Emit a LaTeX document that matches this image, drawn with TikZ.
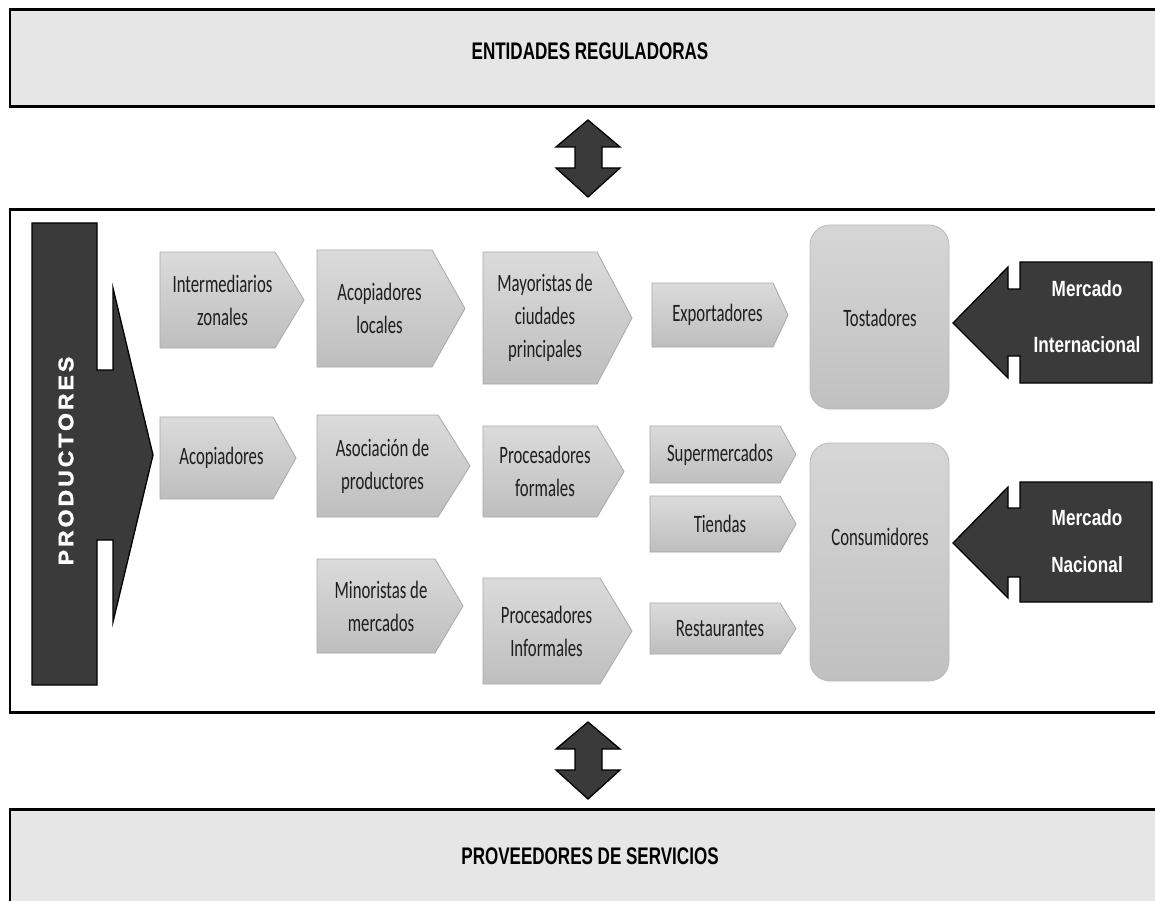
\documentclass[tikz,border=0pt]{standalone}
\usepackage{fontspec}
\newfontfamily\chevfont[FakeStretch=0.67]{Carlito}
\newfontfamily\hdfont[FakeStretch=0.71]{Liberation Sans}
\newfontfamily\mkfont[FakeStretch=0.78]{Liberation Sans}
\newfontfamily\prodfont[FakeStretch=1.1,LetterSpace=14,FakeBold=1.5]{Liberation Sans}
\definecolor{darkfill}{HTML}{3A3A3A}
\definecolor{bandfill}{HTML}{E6E6E6}
\definecolor{chevtop}{HTML}{DBDBDB}
\definecolor{chevbot}{HTML}{BEBEBE}
\definecolor{chevline}{HTML}{A8A8A8}
\definecolor{rndtop}{HTML}{D6D6D6}
\definecolor{rndbot}{HTML}{C0C0C0}
\definecolor{txtdark}{HTML}{1E1E1E}
\tikzset{
  hedge/.style={draw=black, line width=3pt},
  vedge/.style={draw=black, line width=1.8pt},
  chev/.style={draw=chevline, line width=0.8pt, top color=chevtop, bottom color=chevbot},
  chevtext/.style={align=center, text=txtdark, inner sep=0pt, font={\chevfont\fontsize{25}{33}\selectfont}},
  rndbox/.style={draw=chevline!80, line width=0.8pt, top color=rndtop, bottom color=rndbot, rounded corners=20pt},
  darkshape/.style={draw=black, line width=1.3pt, fill=darkfill},
  hdtext/.style={inner sep=0pt, font={\hdfont\bfseries\fontsize{24}{28}\selectfont}, text=black},
  mktext/.style={align=center, inner sep=0pt, text=white},
}
\newcommand{\chevron}[7]{%
  \path[chev] (#2,#3) -- (#4,#3) -- (#5,{(#3+#6)/2}) -- (#4,#6) -- (#2,#6) -- cycle;
  \node[chevtext] (#1) at ({(#2+#4)/2+5},{(#3+#6)/2}) {#7};
}
\newcommand{\bandbox}[3]{% top, bottom, fill
  \fill[#3] (10,#1) rectangle (1170,#2);
  \draw[vedge] (10,#1) -- (10,#2);
  \draw[hedge] (9,#1) -- (1170,#1);
  \draw[hedge] (9,#2) -- (1170,#2);
}
\begin{document}
\begin{tikzpicture}[x=1pt, y=-1pt]
\useasboundingbox (0,0) rectangle (1155,901);
\fill[white] (0,0) rectangle (1155,901);

% bands
\bandbox{10}{107}{bandfill}
\node[hdtext] (entidades) at (590,51) {ENTIDADES REGULADORAS};
\bandbox{210}{712}{white}
\bandbox{809}{915}{bandfill}
\node[hdtext] (proveedores) at (590,856) {PROVEEDORES DE SERVICIOS};

% double arrows
\path[darkshape] (588,120) -- (620,147) -- (602,147) -- (602,168) -- (620,168) -- (588,197)
  -- (556,168) -- (575,168) -- (575,147) -- (556,147) -- cycle;
\path[darkshape] (588,722) -- (620,749) -- (602,749) -- (602,770) -- (620,770) -- (588,799)
  -- (556,770) -- (575,770) -- (575,749) -- (556,749) -- cycle;

% productores
\path[darkshape] (32,223) -- (97,223) -- (97,370) -- (113,370) -- (113,288) -- (153,455)
  -- (113,622) -- (113,540) -- (97,540) -- (97,685) -- (32,685) -- cycle;
\node[rotate=90, inner sep=0pt, text=white, font={\prodfont\bfseries\fontsize{21}{24}\selectfont}] (productores) at (66,461) {PRODUCTORES};

% chevrons
\chevron{inter}{160}{252}{275}{304}{348}{Intermediarios\\zonales}
\chevron{acoloc}{317}{250}{432}{465}{367}{Acopiadores\\locales}
\chevron{mayor}{483}{252}{597}{632}{384}{Mayoristas de\\ciudades\\principales}
\chevron{export}{652}{283}{773}{788}{347}{Exportadores}
\chevron{acop}{160}{417}{273}{296}{499}{Acopiadores}
\chevron{asoc}{317}{415}{438}{470}{517}{Asociación de\\productores}
\chevron{procf}{483}{426}{597}{624}{517}{Procesadores\\formales}
\chevron{super}{650}{426}{780}{796}{483}{Supermercados}
\chevron{tiendas}{650}{496}{780}{796}{552}{Tiendas}
\chevron{minor}{317}{559}{435}{463}{653}{Minoristas de\\mercados}
\chevron{proci}{483}{578}{600}{632}{684}{Procesadores\\Informales}
\chevron{rest}{650}{603}{780}{796}{654}{Restaurantes}

% rounded boxes
\path[rndbox] (810,225) rectangle (949,409);
\node[chevtext] (tostadores) at (880,318) {Tostadores};
\path[rndbox] (810,443) rectangle (949,681);
\node[chevtext] (consumidores) at (880,537) {Consumidores};

% mercado arrows
\path[darkshape] (1020,262) -- (1152,262) -- (1152,383) -- (1020,383) -- (1020,356) -- (1008,356)
  -- (1008,378) -- (953,323) -- (1008,267) -- (1008,289) -- (1020,289) -- cycle;
\node[mktext, font={\mkfont\bfseries\fontsize{22}{56}\selectfont}] (mint) at (1087,317) {Mercado\\Internacional};
\path[darkshape] (1020,482) -- (1152,482) -- (1152,602) -- (1020,602) -- (1020,577) -- (1008,577)
  -- (1008,598) -- (953,543) -- (1008,487) -- (1008,508) -- (1020,508) -- cycle;
\node[mktext, font={\mkfont\bfseries\fontsize{22}{47}\selectfont}] (mnac) at (1087,541) {Mercado\\Nacional};
\end{tikzpicture}
\end{document}
